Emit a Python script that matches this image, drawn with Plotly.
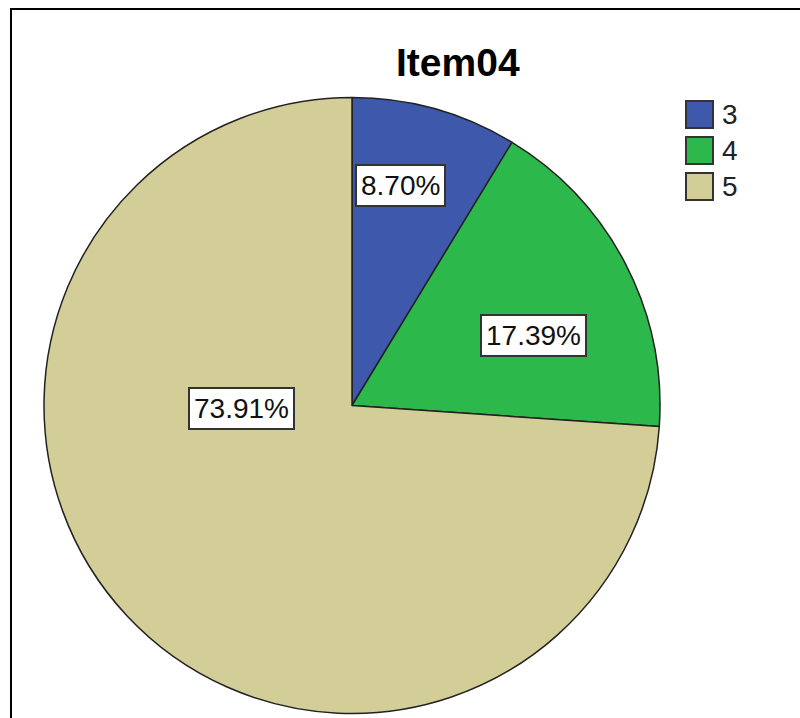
import math
import plotly.graph_objects as go

# ---- data ----
categories = ["3", "4", "5"]
counts = [2, 4, 17]
pct_labels = ["8.70%", "17.39%", "73.91%"]
title_text = "Item04"

# ---- styles / layout ----
colors = ["#3E58AC", "#2DB84B", "#D3CE97"]
W, H = 800, 718
FONT = "Liberation Sans, Arial, sans-serif"
pie_px = dict(x0=44, x1=660, y0=97, y1=714)          # pie bounding box (pixels)
label_px = [(400, 186), (533, 335), (241, 408)]        # label box centres (pixels)
legend_px = dict(x=686, y=101, size=27, step=36)       # legend layout (pixels)

def px_x(x):
    return x / W

def px_y(y):
    return 1 - y / H

fig = go.Figure()
fig.add_trace(go.Pie(
    labels=categories,
    values=counts,
    sort=False,
    direction="clockwise",
    rotation=0,
    textinfo="none",
    hoverinfo="label+percent",
    marker=dict(colors=colors, line=dict(color="#222222", width=1.5)),
    domain=dict(x=[px_x(pie_px["x0"]), px_x(pie_px["x1"])],
                y=[px_y(pie_px["y1"]), px_y(pie_px["y0"])]),
    showlegend=False,
))

annotations = []
# percentage labels in white boxes
for txt, (cx, cy) in zip(pct_labels, label_px):
    annotations.append(dict(
        x=px_x(cx), y=px_y(cy), xref="paper", yref="paper",
        text=txt, showarrow=False, xanchor="center", yanchor="middle",
        font=dict(family=FONT, size=28, color="#111111"),
        bgcolor="white", bordercolor="#333333", borderwidth=2, borderpad=4,
    ))

# title
annotations.append(dict(
    x=px_x(458), y=px_y(62), xref="paper", yref="paper",
    text="<b>%s</b>" % title_text, showarrow=False,
    xanchor="center", yanchor="middle",
    font=dict(family=FONT, size=39, color="black"),
))

shapes = []
# legend built from the category and colour lists
for i, (cat, col) in enumerate(zip(categories, colors)):
    top = legend_px["y"] + i * legend_px["step"]
    shapes.append(dict(
        type="rect", xref="paper", yref="paper",
        x0=px_x(legend_px["x"]), x1=px_x(legend_px["x"] + legend_px["size"]),
        y0=px_y(top + legend_px["size"]), y1=px_y(top),
        fillcolor=col, line=dict(color="#333333", width=2),
    ))
    annotations.append(dict(
        x=px_x(legend_px["x"] + legend_px["size"] + 7), y=px_y(top + legend_px["size"] / 2),
        xref="paper", yref="paper", text=cat, showarrow=False,
        xanchor="left", yanchor="middle",
        font=dict(family=FONT, size=28, color="#222222"),
    ))

# outer frame (extends past the right and bottom edges)
shapes.append(dict(
    type="rect", xref="paper", yref="paper",
    x0=px_x(11), x1=px_x(830), y0=px_y(760), y1=px_y(9),
    line=dict(color="black", width=2), fillcolor="rgba(0,0,0,0)",
))

fig.update_layout(
    width=W, height=H,
    margin=dict(l=0, r=0, t=0, b=0),
    paper_bgcolor="white", plot_bgcolor="white",
    annotations=annotations, shapes=shapes,
)

fig.write_html("out.html")
